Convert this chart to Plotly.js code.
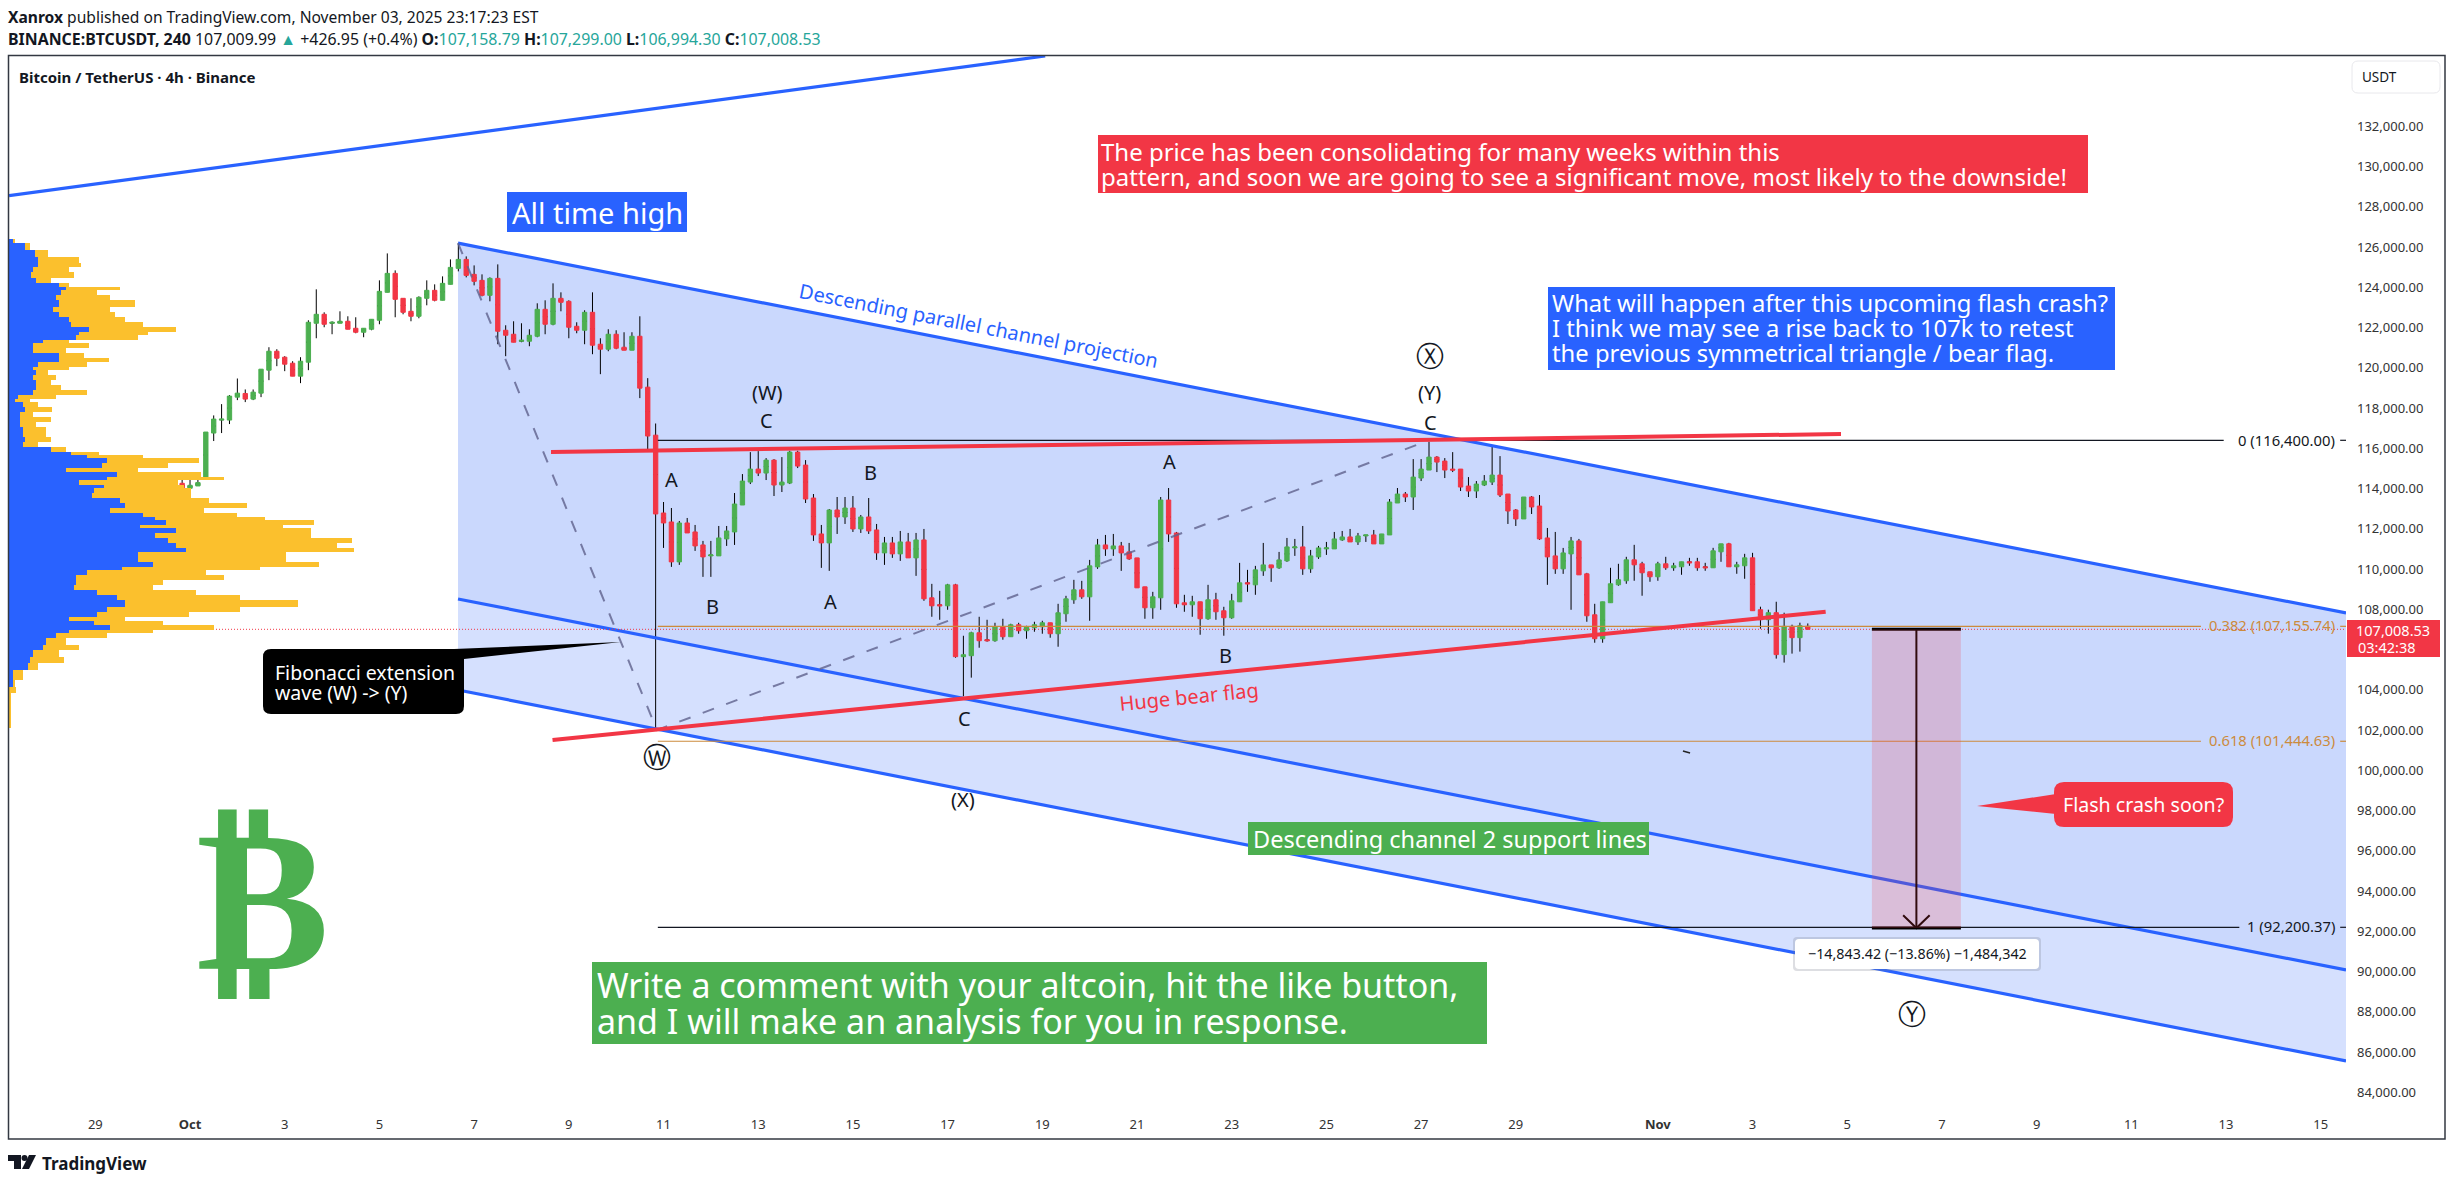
<!DOCTYPE html>
<html><head><meta charset="utf-8">
<script src="https://cdn.plot.ly/plotly-3.0.1.min.js"></script>
<style>html,body{margin:0;padding:0;background:#fff}</style></head>
<body><div id="chart" style="width:2446px;height:1186px"></div>
<script>
// ---------- Candles: 4h bars, first bar is two 4h bars before Oct 1 ----------
const firstBar = -2;
const open = [114016,114264,114016,114132,114528,116760,117405,117405,118545,118727,118446,118744,119884,120826,120529,120231,119587,120281,122215,122661,122215,122215,122314,121967,121769,121918,122364,123752,124695,123455,122810,122562,123455,123852,123356,124149,124943,125389,124645,124348,123604,124447,121868,121670,121323,121323,121570,122909,122166,123455,123306,122066,121868,122760,121174,120926,121670,121025,120876,121570,119041,
116656,112788,112342,110358,112292,111846,111201,110656,110656,111499,111846,113185,114325,114970,114772,115416,114177,114276,115813,115168,113532,111747,111300,112937,112590,113036,111995,112590,111945,110804,111300,110755,111350,110557,111449,108573,108226,108176,109218,105647,105697,106837,106490,106441,107135,106639,107234,106936,107085,107135,107333,106788,107780,108474,108970,108622,110110,111201,111003,111152,110854,
110557,109118,108077,108573,113433,111796,108325,108226,108375,107531,108474,107928,107581,108375,109317,109218,109912,110209,110061,110408,111052,111102,110011,110606,111003,111003,111449,111598,111350,111648,111697,111251,111697,113284,113730,113582,114524,114921,115565,115367,114970,114970,114127,113879,114177,114325,114673,113730,112937,112491,113582,113135,111548,110656,110011,110755,111400,109763,107730,106540,
108329,109221,109420,110461,110263,109866,109618,110263,110065,110114,110362,110362,110114,110065,110858,111255,110114,110164,110560,107982,107486,107833,105750,107155,106593,107158.79];
const high = [114347,114760,114430,114760,116810,117636,118198,118644,119471,118926,118926,119934,121025,120926,120579,120331,120529,122364,123901,122760,122314,122810,122562,122513,121967,122413,124348,125686,124843,123455,123455,123554,124348,124149,124546,125389,126199,125538,125091,124645,124496,125141,122116,122314,122215,121918,123207,123356,124199,123752,123356,122265,122860,123752,121471,121918,121868,121769,121769,122562,119488,
117235,113334,113036,112391,112540,112193,111400,111400,112143,112143,113780,114722,115813,115863,115516,115466,115565,115879,115879,115416,113730,112193,112986,113582,113582,113631,112689,113532,112243,111598,111598,111895,111796,111796,111995,109267,108920,109267,109267,106688,106887,107631,107482,107333,107531,107284,107333,107184,107383,107432,107333,108275,108672,109466,109416,110457,111499,111697,111747,111350,111300,
110557,109118,108870,113582,114028,111846,108722,108672,108375,109218,108821,108127,108771,110309,109962,110160,111300,110209,110854,111548,111499,112143,110953,111152,111350,111846,111895,111995,111796,111697,111945,111747,113482,114028,113830,115466,115466,116326,115615,115516,115813,114970,114573,114375,114673,116111,115615,113730,112986,113582,113631,113681,112044,111846,111052,111598,111499,109813,108275,108375,
110065,110263,110610,111205,110362,109866,110362,110610,110312,110362,110560,110560,110312,111056,111255,111304,110362,110759,110808,108131,107982,108378,107833,107238,107337,107299];
const low = [113735,113768,113967,114132,114528,116363,116760,117207,118397,118298,118397,118545,119388,120083,119835,119587,119240,119884,121471,122017,121670,122215,121918,121719,121521,121868,122166,123752,122513,122661,122314,122463,123108,123306,123356,124149,124794,124496,124099,123554,123306,121174,120579,121273,121273,121075,121521,121670,122116,122810,121471,121719,121174,120678,119686,120826,120926,120876,120876,118496,115917,
102000,111052,110110,110209,111796,110904,109614,109614,110656,111152,111201,113185,114226,114623,114425,113631,113830,114226,115020,113284,111400,110061,109912,111747,112243,111846,111796,111747,110457,110209,110557,110408,110557,109664,108424,107631,107482,107978,105597,103680,104606,106093,106391,106391,106490,106639,106788,106540,106887,106788,106589,106143,107383,108275,108523,107432,110011,110656,110656,109912,110457,
109069,107531,107531,107978,111350,108077,107879,107631,106738,107482,107482,106689,107531,108375,108870,108722,109664,109366,110011,110358,110656,109714,109813,110507,110705,111003,111400,111350,111201,111350,111251,111251,111697,113284,113334,112937,114375,114921,114821,114524,114821,113879,113582,113532,114127,114177,113582,112243,112143,112491,112738,111449,109218,109763,109763,107978,109714,107383,106341,106341,
108329,109172,109271,109420,108676,109370,109420,109965,109916,109717,110164,109916,109916,110065,110362,110114,109767,109519,107932,107040,106792,105552,105354,105800,105899,106994.3];
const close = [114231,114016,114165,114297,116810,117454,117454,118595,118744,118446,118793,119934,120826,120479,120182,119587,120331,122265,122661,122166,122265,122314,121918,121769,121967,122413,123802,124695,123405,122760,122562,123504,123852,123356,124199,124992,125389,124595,124298,123604,124447,121818,121620,121273,121372,121620,122909,122166,123455,123256,122017,121868,122760,121124,120926,121670,120975,120876,121570,118992,116612,
112738,112292,110358,112292,111796,111152,110606,110705,111548,111895,113234,114375,114970,114772,115416,114177,114325,115813,115119,113482,111697,111300,112937,112590,113036,111995,112590,111895,110804,111300,110755,111350,110557,111449,108523,108176,108176,109218,105647,105746,106837,106441,106441,107135,106639,107234,106936,107135,107234,107333,106788,107829,108523,108970,108622,110160,111201,111003,111152,110804,110507,
109069,108077,108622,113433,111747,108275,108226,108375,107531,108474,107879,107581,108424,109317,109267,109962,110209,110061,110457,111102,111102,110011,110656,111052,111052,111499,111598,111350,111648,111697,111251,111747,113334,113730,113582,114573,114970,115565,115317,114921,114921,114077,113879,114226,114375,114673,113681,112887,112491,113582,113086,111499,110606,110011,110804,111400,109714,107680,106540,108375,
109271,109470,110461,110213,109817,109618,110263,110065,110164,110362,110312,110065,110065,110907,111255,110114,110213,110560,107932,107486,107833,105750,107155,106593,107188,107008.53];

// ---------- Volume profile read from the left edge ----------
const profilePrice = [126188,125857,125525,125194,125029,124780,124449,124200,124035,123869,123621,123372,123041,122793,122544,122296,122047,121799,121633,121385,121219,120971,120722,120474,120308,120060,119894,119646,119397,119149,118900,118652,118453,
118320,118072,117823,117575,117326,117078,116830,116581,116333,116084,115836,115670,115505,115256,115008,114842,114594,114428,114179,114014,113765,113517,113268,113020,112772,112606,112440,112192,112026,111778,111529,111281,111032,110867,110618,110370,110121,109956,109707,109459,109210,108962,108714,108465,108101,107885,107637,107422,107223,106975,106809,106561,106230,105981,105650,105318,104987,104490,104159,103827,103496,102833,102088];
const profileBlue = [7,32,50,57,57,47,44,52,97,112,102,92,97,87,97,117,122,157,137,132,67,47,47,97,97,57,47,52,47,52,52,47,17,
12,27,32,22,22,22,27,27,32,27,82,122,152,192,182,112,212,192,137,187,167,162,217,227,197,262,287,307,257,327,287,312,327,347,252,252,282,222,152,132,132,127,172,212,227,192,172,117,167,197,117,92,72,67,47,42,37,7,7,0,0,0,0];
const profileYellow = [5,10,27,80,85,70,83,30,20,105,70,105,150,110,110,110,140,170,135,120,50,110,65,50,98,95,70,25,45,30,50,105,75,
30,30,53,25,60,30,45,45,50,30,30,55,110,180,130,140,165,230,195,155,190,195,175,240,185,185,215,290,280,265,305,360,315,330,290,290,325,270,235,290,170,155,195,240,340,260,180,110,135,205,165,100,40,70,50,65,20,20,5,14,4,4,4];

// ---------- Axis ticks ----------
const priceTicks = [84000,86000,88000,90000,92000,94000,96000,98000,100000,102000,104000,108000,110000,112000,114000,116000,118000,120000,122000,124000,126000,128000,130000,132000];
const dayTicks = [-2,0,2,4,6,8,10,12,14,16,18,20,22,24,26,28,31,33,35,37,39,41,43,45];
const dayLabels = ['29','<b>Oct</b>','3','5','7','9','11','13','15','17','19','21','23','25','27','29','<b>Nov</b>','3','5','7','9','11','13','15'];

// ---------- Drawings: [days since Oct 1], [price] ----------
const channelDays = [5.66,45.533];
const channelUpper = [126200,107819];
const channelMiddle = [108514,90079];
const channelLower = [103992,85557];
const topLineDays = [-3.823,18.06];
const topLinePrice = [128554,135496];
const flagTopDays = [7.624,34.868];
const flagTopPrice = [115819,116713];
const flagLowDays = [7.656,34.544];
const flagLowPrice = [101508,107883];
const waveDays = [5.66,9.86,26.17];
const wavePrice = [126200,102000,116400];
const fibStartDay = 9.88;
const fibLevels = [116400,107155.74,101444.63,92200.37];
const fibEndDays = [42.95,42.47,42.47,43.28];
const fibTickDays = [45.41,45.533];
const lastPrice = 107008.53;
const measureDays = [35.52,37.40];
const measureMidDay = 36.46;
const measurePrice = [107008.53,92165.11];
const arrowDays = [36.18,36.46,36.74];
const arrowPrice = [92800,92165.11,92800];
const strayDays = [31.53,31.68];
const strayPrice = [100961,100860];

const BLUE='#2962ff', RED='#f23645', GREEN='#4caf50', INK='#131722', ORANGE='#cc8b3d', TEAL='#26a69a';
const FONT='"Noto Sans",sans-serif';
const L=9,T=56,W=2337,H=1044;
const PX=x=>(x-L)/W, PY=y=>1-(y-T)/H;

const dayOf = k => (firstBar+k)/6;
const days = open.map((_,i)=>dayOf(i));
const bodyTop = open.map((o,i)=>Math.max(o,close[i]));
const bodyBot = open.map((o,i)=>Math.min(o,close[i]));
const mid = open.map((o,i)=>(o+close[i])/2);

const line=(x,y,color,width,dash)=>({type:'scatter',mode:'lines',x,y,xaxis:'x',yaxis:'y',hoverinfo:'skip',showlegend:false,line:{color,width,dash:dash||'solid'}});

// each profile row spans from its own price up to the row above it
const profileWidths = profilePrice.map((p,i)=>i>0?profilePrice[i-1]-p:200);
const profileOffsets = profilePrice.map(()=>0);

const traces=[
 {type:'candlestick',x:days,open:mid,close:mid,high,low,whiskerwidth:0,hoverinfo:'skip',showlegend:false,
  increasing:{line:{color:'#000',width:1},fillcolor:'#000'},decreasing:{line:{color:'#000',width:1},fillcolor:'#000'}},
 {type:'candlestick',x:days,open,close,high:bodyTop,low:bodyBot,whiskerwidth:0,hoverinfo:'skip',showlegend:false,
  increasing:{line:{color:GREEN,width:1},fillcolor:GREEN},decreasing:{line:{color:RED,width:1},fillcolor:RED}},
 line(channelDays,channelUpper,BLUE,3.2),
 line(channelDays,channelMiddle,BLUE,3.2),
 line(channelDays,channelLower,BLUE,3.2),
 line(topLineDays,topLinePrice,BLUE,3.2),
 line(waveDays,wavePrice,'rgba(95,98,140,0.8)',2,'12px 13px'),
 line([fibStartDay,fibEndDays[0]],[fibLevels[0],fibLevels[0]],INK,1.2),
 line([fibStartDay,fibEndDays[1]],[fibLevels[1],fibLevels[1]],ORANGE,1.2),
 line([fibStartDay,fibEndDays[2]],[fibLevels[2],fibLevels[2]],ORANGE,1.2),
 line([fibStartDay,fibEndDays[3]],[fibLevels[3],fibLevels[3]],INK,1.2),
 line(fibTickDays,[fibLevels[0],fibLevels[0]],INK,1.2),
 line(fibTickDays,[fibLevels[1],fibLevels[1]],ORANGE,1.2),
 line(fibTickDays,[fibLevels[2],fibLevels[2]],ORANGE,1.2),
 line(fibTickDays,[fibLevels[3],fibLevels[3]],INK,1.2),
 line([-3.823,45.533],[lastPrice,lastPrice],RED,1,'1px 2px'),
 line(flagTopDays,flagTopPrice,RED,4),
 line(flagLowDays,flagLowPrice,RED,4),
 line(strayDays,strayPrice,'#222',1.5),
 line(measureDays,[measurePrice[0],measurePrice[0]],'#000',3),
 line(measureDays,[measurePrice[1],measurePrice[1]],'#000',3),
 line([measureMidDay,measureMidDay],measurePrice,'#000',2),
 line(arrowDays,arrowPrice,'#000',2),
 {type:'bar',orientation:'h',y:profilePrice,x:profileBlue,width:profileWidths,offset:profileOffsets,xaxis:'x2',yaxis:'y',marker:{color:BLUE,line:{width:0}},hoverinfo:'skip',showlegend:false},
 {type:'bar',orientation:'h',y:profilePrice,x:profileYellow,width:profileWidths,offset:profileOffsets,xaxis:'x2',yaxis:'y',marker:{color:'#fbc02d',line:{width:0}},hoverinfo:'skip',showlegend:false}
];

const paperShape=(o)=>Object.assign({xref:'paper',yref:'paper',layer:'above'},o);
const box=(x0,y0,x1,y1,color)=>paperShape({type:'rect',x0:PX(x0),x1:PX(x1),y0:PY(y0),y1:PY(y1),fillcolor:color,line:{width:0}});
const poly=(pts,color)=>paperShape({type:'path',path:'M'+pts.map(p=>PX(p[0])+','+PY(p[1])).join(' L')+' Z',fillcolor:color,line:{width:0}});
const rrect=(x0,y0,x1,y1,r,color,border)=>{
  const p=(x,y)=>PX(x)+','+PY(y);
  return paperShape({type:'path',fillcolor:color,line:border?{color:border,width:1}:{width:0},
   path:`M${p(x0+r,y0)} L${p(x1-r,y0)} Q${p(x1,y0)} ${p(x1,y0+r)} L${p(x1,y1-r)} Q${p(x1,y1)} ${p(x1-r,y1)} L${p(x0+r,y1)} Q${p(x0,y1)} ${p(x0,y1-r)} L${p(x0,y0+r)} Q${p(x0,y0)} ${p(x0+r,y0)} Z`});
};
const chanPath=(a,b)=>`M${channelDays[0]},${a[0]} L${channelDays[1]},${a[1]} L${channelDays[1]},${b[1]} L${channelDays[0]},${b[0]} Z`;

const shapes=[
 {type:'path',xref:'x',yref:'y',layer:'below',path:chanPath(channelUpper,channelMiddle),fillcolor:'#cad8fd',line:{width:0}},
 {type:'path',xref:'x',yref:'y',layer:'below',path:chanPath(channelMiddle,channelLower),fillcolor:'#d5e0fe',line:{width:0}},
 {type:'rect',xref:'x',yref:'y',layer:'above',x0:measureDays[0],x1:measureDays[1],y0:measurePrice[1],y1:measurePrice[0],fillcolor:'rgba(242,54,69,0.2)',line:{width:0}},
 box(507,192,687,232,BLUE),
 box(1098,135,2088,193,RED),
 box(1548,287,2115,370,BLUE),
 box(1248,822,1649,855,GREEN),
 box(592,962,1487,1044,GREEN),
 poly([[454,649],[621,642],[464,659]],'#000'),
 rrect(263,649,464,714,8,'#000'),
 poly([[2056,794],[1977,806],[2056,814]],RED),
 rrect(2054,782,2233,827,10,RED),
 rrect(1793,937,2041,971,4,'rgba(120,125,140,0.25)'),
 rrect(1795,939,2039,969,4,'#fff'),
 box(2347,620,2440,657,RED),
 rrect(2352,61,2440,93,6,'#fff','#e8e8ec'),
 paperShape({type:'rect',x0:PX(8.5),x1:PX(2445),y0:PY(55.5),y1:PY(1139),line:{color:'#333842',width:1.5}}),
 poly([[8,1155],[21,1155],[21,1169],[14,1169],[14,1161],[8,1161]],INK),
 poly([[29,1155],[36,1155],[29,1169],[22,1169]],INK),
 paperShape({type:'circle',x0:PX(21.5),x1:PX(27.5),y0:PY(1155),y1:PY(1161),fillcolor:INK,line:{width:0}})
];

const txt=(x,y,text,size,color,anchor,extra)=>Object.assign({xref:'paper',yref:'paper',x:PX(x),y:PY(y),text,showarrow:false,
  xanchor:anchor||'center',yanchor:'middle',align:anchor==='left'?'left':(anchor==='right'?'right':'center'),
  font:{family:FONT,size,color:color||INK},borderpad:0,borderwidth:0},extra||{});

const tealVal=s=>`<span style="color:${TEAL}">${s}</span>`;
const annotations=[
 txt(8,17,'<b>Xanrox</b> published on TradingView.com, November 03, 2025 23:17:23 EST',15.6,INK,'left'),
 txt(8,39,`<b>BINANCE:BTCUSDT, 240</b> 107,009.99 ${tealVal('▲')} +426.95 (+0.4%) <b>O:</b>${tealVal('107,158.79')} <b>H:</b>${tealVal('107,299.00')} <b>L:</b>${tealVal('106,994.30')} <b>C:</b>${tealVal('107,008.53')}`,15.9,INK,'left'),
 txt(19,77,'<b>Bitcoin / TetherUS · 4h · Binance</b>',15,INK,'left'),
 txt(2362,77,'USDT',13.5,INK,'left'),
 txt(512,212,'All time high',29,'#fff','left'),
 txt(1101,151,'The price has been consolidating for many weeks within this',24,'#fff','left'),
 txt(1101,177,'pattern, and soon we are going to see a significant move, most likely to the downside!',24,'#fff','left'),
 txt(1552,303,'What will happen after this upcoming flash crash?',23.8,'#fff','left'),
 txt(1552,328,'I think we may see a rise back to 107k to retest',23.8,'#fff','left'),
 txt(1552,353,'the previous symmetrical triangle / bear flag.',23.8,'#fff','left'),
 txt(1253,839,'Descending channel 2 support lines',23.5,'#fff','left'),
 txt(597,985,'Write a comment with your altcoin, hit the like button,',34,'#fff','left'),
 txt(597,1021,'and I will make an analysis for you in response.',34,'#fff','left'),
 txt(275,672,'Fibonacci extension',19.5,'#fff','left'),
 txt(275,692,'wave (W) -> (Y)',19.5,'#fff','left'),
 txt(2143,804,'Flash crash soon?',19.6,'#fff'),
 txt(1917,953,'−14,843.42 (−13.86%) −1,484,342',14.3,INK),
 txt(978,326,'Descending parallel channel projection',20,BLUE,'center',{textangle:11.1}),
 txt(1189,696,'Huge bear flag',20,RED,'center',{textangle:-5.8}),
 txt(2335,440,'0 (116,400.00)',14.8,INK,'right'),
 txt(2335,625,'0.382 (107,155.74)',14.8,ORANGE,'right'),
 txt(2335,740,'0.618 (101,444.63)',14.8,ORANGE,'right'),
 txt(2335,926,'1 (92,200.37)',14.8,INK,'right'),
 txt(2393,630,'107,008.53',14.5,'#fff'),
 txt(2358,647,'03:42:38',14.5,'#fff','left'),
 txt(262,899,'<b>₿</b>',200,GREEN,'center',{font:{family:'"DejaVu Sans"',size:200,color:GREEN}}),
 txt(42,1163,'<b>TradingView</b>',17,INK,'left'),
 txt(767,393,'(W)',20),txt(766,421,'C',20),txt(671,479,'A',20),txt(712,606,'B',20),
 txt(870,473,'B',20),txt(830,601,'A',20),txt(964,718,'C',20),txt(963,799,'(X)',20),
 txt(1169,462,'A',20),txt(1225,655,'B',20),txt(1430,423,'C',20),txt(1429,393,'(Y)',20),
 txt(1430,356,'Ⓧ',28,INK,'center',{font:{family:'"DejaVu Sans"',size:28,color:INK}}),
 txt(657,757,'Ⓦ',28,INK,'center',{font:{family:'"DejaVu Sans"',size:28,color:INK}}),
 txt(1912,1014,'Ⓨ',28,INK,'center',{font:{family:'"DejaVu Sans"',size:28,color:INK}})
];

const layout={
 width:2446,height:1186,autosize:false,
 margin:{l:L,r:2446-L-W,t:T,b:1186-T-H,pad:0},
 paper_bgcolor:'#fff',plot_bgcolor:'#fff',showlegend:false,
 boxmode:'overlay',boxgap:0.45,boxgroupgap:0,
 barmode:'stack',bargap:0,
 font:{family:FONT,color:'#333'},
 xaxis:{range:[-3.823,45.533],type:'linear',tickmode:'array',tickvals:dayTicks,ticktext:dayLabels,showgrid:false,zeroline:false,showline:false,
   ticks:'outside',ticklen:12,tickcolor:'rgba(0,0,0,0)',tickfont:{family:FONT,size:13,color:'#333'},rangeslider:{visible:false},fixedrange:true},
 xaxis2:{range:[0,4580],overlaying:'x',anchor:'y',visible:false,fixedrange:true},
 yaxis:{range:[83619,135496],side:'right',tickmode:'array',tickvals:priceTicks,tickformat:',.2f',showgrid:false,zeroline:false,showline:false,
   ticks:'',ticklabelstandoff:10,tickfont:{family:FONT,size:13,color:'#333'},fixedrange:true},
 shapes,annotations,hovermode:false
};
Plotly.newPlot('chart',traces,layout,{displayModeBar:false,staticPlot:true});
</script></body></html>
